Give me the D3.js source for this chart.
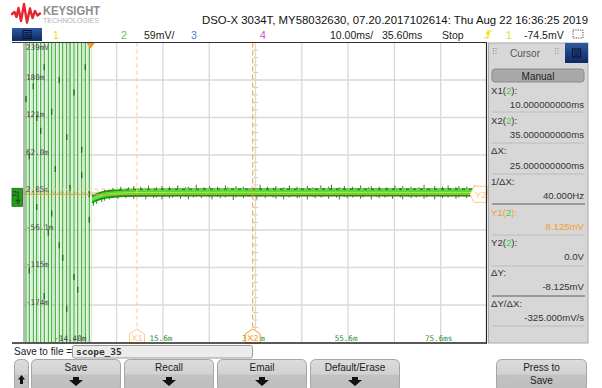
<!DOCTYPE html>
<html><head><meta charset="utf-8">
<script src="https://cdn.jsdelivr.net/npm/d3@7"></script>
<style>
body{margin:0;background:#fff;}
svg{display:block;font-family:"Liberation Sans",Arial,sans-serif;}
</style>
</head><body><svg id="c" width="602" height="388"></svg>
<script>
// ---------------- data ----------------
const timeDomain = [-14.4, 85.6];            // ms, screen left..right (10 ms/div)
const voltDomain = [-233.15, 238.85];         // mV, bottom..top (59 mV/div, offset 2.85 mV)
const yTickValues = [238.85, 179.85, 120.85, 61.85, 2.85, -56.15, -115.15, -174.15];
const yTickLabels = ["239mV", "180m", "121m", "62.0m", "2.85m", "-56.1m", "-115m", "-174m"];
const xLabelTimes = [-4.4, 15.6, 35.6, 55.6, 75.6];
const xLabelTexts = ["-14.40m", "15.6m", "35.6m", "55.6m", "75.6ms"];

// pre-trigger oscillation: edge times (ms) of a signal that overdrives the screen
const oscEdgeTimes = [-13.97, -13.26, -12.39, -11.66, -10.79, -10.02, -9.15, -8.42, -7.64,
                      -6.78, -6.04, -5.18, -4.47, -3.60, -2.80, -1.94, -1.16, -0.30];
const oscHigh = 420, oscLow = -420;           // mV (beyond screen)
// darker sample marks on the oscillation edges [ms, mV]
const oscMarkT = [-13.97, -13.26, -12.39, -11.66, -10.79, -10.02, -9.15, -8.42, -7.64, -6.78, -6.04, -5.18, -4.47, -3.60, -2.80, -1.94, -1.16, -0.30,
                  -13.26, -11.66, -10.02, -8.42, -6.78, -5.18, -3.60, -1.94, -0.30];
const oscMarkV = [150, 60, 170, -20, 100, 200, -60, 130, 40, 180, -100, 90, 10, 160, -150, 70, 200, -40,
                  -120, 120, -160, -30, -80, -180, -130, 30, 0];

// post-trigger settling: mean of trace (mV)
const meanT = [0.3, 0.8, 1.5, 2.5, 3.5, 5, 7, 10, 20, 30, 40, 50, 60, 70, 80, 85.6];
const meanV = [-8, -6, -4, -1.5, 0, 1.2, 2.2, 2.8, 3, 3.2, 2.9, 3, 3.1, 2.9, 3, 3];
// noise excursions (mV)
const spikeT = [0.6,1.3,2.4,3.0,4.1,4.8,5.9,6.5,7.6,8.2,9.3,10.1,10.8,11.9,12.5,13.6,14.2,15.4,15.9,17.0,
  17.7,18.8,19.4,20.5,21.1,22.2,22.8,23.9,24.5,25.7,26.2,27.4,28.0,29.1,29.6,30.8,31.4,32.5,33.0,34.2,
  34.9,35.9,36.6,37.7,38.2,39.4,40.0,41.2,41.7,42.9,43.4,44.6,45.1,46.3,46.8,48.0,48.5,49.7,50.2,51.4,
  52.0,53.1,53.7,54.8,55.4,56.6,57.1,58.3,58.8,60.0,60.6,61.7,62.3,63.5,64.0,65.2,65.7,66.9,67.4,68.6,
  69.2,70.3,70.9,72.0,72.6,73.8,74.3,75.5,76.0,77.2,77.8,78.9,79.5,80.6,81.2,82.4,82.9,84.1,84.7];
const spikeHi = [-2,1,4,8,7,10,9,12,8,11,13,9,12,10,14,9,11,13,8,12,
  10,14,9,11,12,8,15,10,11,13,9,12,8,14,11,10,13,9,12,8,
  11,10,15,9,12,10,13,8,11,14,9,12,10,8,13,11,9,14,10,12,
  15,9,11,13,8,12,10,14,9,11,13,10,12,8,11,9,14,10,13,9,
  12,8,11,15,10,9,13,8,12,14,10,11,13,9,12,8,14,10,11];
const spikeLo = [-18,-15,-12,-10,-8,-6,-7,-4,-6,-3,-7,-5,-4,-8,-3,-6,-5,-8,-4,-6,
  -5,-3,-7,-4,-8,-5,-4,-6,-3,-5,-8,-4,-6,-5,-3,-9,-5,-3,-6,-4,
  -5,-8,-4,-6,-3,-5,-7,-4,-8,-5,-3,-6,-5,-3,-8,-4,-6,-5,-4,-7,
  -3,-5,-8,-4,-6,-5,-3,-7,-5,-3,-8,-4,-6,-5,-4,-7,-3,-5,-8,-4,
  -6,-5,-3,-7,-5,-3,-8,-4,-6,-5,-3,-7,-5,-3,-6,-4,-5,-7,-4];

// cursors
const cursorX = [10, 35];         // ms
const cursorY = [8.125, 0];       // mV
const triggerTime = 0;

// header / panel texts
const titleText = "DSO-X 3034T, MY58032630, 07.20.2017102614: Thu Aug 22 16:36:25 2019";
const panelLabels = ["X1(", "X2(", "ΔX:", "1/ΔX:", "Y1(", "Y2(", "ΔY:", "ΔY/ΔX:"];
const panelValues = ["10.000000000ms", "35.000000000ms", "25.000000000ms", "40.000Hz",
                     "8.125mV", "0.0V", "-8.125mV", "-325.000mV/s"];
const softkeys = ["Save", "Recall", "Email", "Default/Erase"];

// ---------------- drawing ----------------
const svg = d3.select("#c");
const PL = 24, PR = 487, PT = 42.5, PB = 342.5;
const x = d3.scaleLinear().domain(timeDomain).range([PL, PR]);
const y = d3.scaleLinear().domain(voltDomain).range([PB, PT]);

const ORANGE = "#f59a1c", ORANGE_L = "#ffc982";
const G_DARK = "#1f8a1a", G_MID = "#35a82f", G_BRIGHT = "#4ade30", G_LIGHT = "#d8f1d4";

svg.append("rect").attr("width", 602).attr("height", 388).attr("fill", "#fff");

// ----- header -----
svg.append("path")
  .attr("d", "M12,14 L14.5,12 L16.5,17 L18.5,8 L21,21 L24,4 L27,22.5 L30,8.5 L32.5,18 L35,11 L37.5,15.5 L40,13.5")
  .attr("fill", "none").attr("stroke", "#e3262f").attr("stroke-width", 2.4)
  .attr("stroke-linejoin", "round").attr("stroke-linecap", "round");
svg.append("text").attr("x", 43).attr("y", 15).attr("font-size", 13.5).attr("font-weight", "bold")
  .attr("fill", "#8d8d8d").attr("textLength", 57).attr("lengthAdjust", "spacingAndGlyphs").text("KEYSIGHT");
svg.append("text").attr("x", 43).attr("y", 23.3).attr("font-size", 6.4)
  .attr("fill", "#b0b0b0").attr("textLength", 56).attr("lengthAdjust", "spacingAndGlyphs").text("TECHNOLOGIES");
svg.append("text").attr("x", 202).attr("y", 24).attr("font-size", 11.8).attr("fill", "#111")
  .attr("textLength", 386).attr("lengthAdjust", "spacingAndGlyphs").text(titleText);

// menu box
const defs = svg.append("defs");
const bg = defs.append("linearGradient").attr("id", "blu").attr("x1", 0).attr("y1", 0).attr("x2", 0).attr("y2", 1);
bg.append("stop").attr("offset", 0).attr("stop-color", "#2f5aa0");
bg.append("stop").attr("offset", 1).attr("stop-color", "#0b2866");
function menuBox(x0, y0, w, h) {
  svg.append("rect").attr("x", x0).attr("y", y0).attr("width", w).attr("height", h).attr("fill", "url(#blu)");
  const cx = x0 + w / 2, cy = y0 + h / 2;
  svg.append("rect").attr("x", cx - 4).attr("y", cy - 4).attr("width", 8).attr("height", 8)
    .attr("fill", "none").attr("stroke", "#0a0f1c").attr("stroke-width", 1);
  [-1.5, 0.5, 2.5].forEach(d => svg.append("line").attr("x1", cx - 2.5).attr("x2", cx + 2.5)
    .attr("y1", cy + d - 0.5).attr("y2", cy + d - 0.5).attr("stroke", "#0a0f1c").attr("stroke-width", 0.8));
}
menuBox(12, 28, 30, 13);

const row2 = [
  {t: "1", x: 53, c: "#e8e000"}, {t: "2", x: 121, c: "#4cd04c"}, {t: "59mV/", x: 144, c: "#222"},
  {t: "3", x: 191, c: "#4a78e8"}, {t: "4", x: 260, c: "#e040c0"},
  {t: "10.00ms/", x: 330, c: "#222"}, {t: "35.60ms", x: 382, c: "#222"}, {t: "Stop", x: 442, c: "#222"},
  {t: "1", x: 506, c: "#e8e000"}, {t: "-74.5mV", x: 524, c: "#222"}
];
row2.forEach(d => svg.append("text").attr("x", d.x).attr("y", 39).attr("font-size", 10.5)
  .attr("fill", d.c).text(d.t));
// trigger edge icon
svg.append("path").attr("d", "M484,38 L488,38 L488,31 L492,31 M486,34 L488,32 L490,34")
  .attr("fill", "none").attr("stroke", "#e8e000").attr("stroke-width", 1.2);
// dotted zoom icon
svg.append("rect").attr("x", 573).attr("y", 30).attr("width", 10).attr("height", 8)
  .attr("fill", "none").attr("stroke", "#333").attr("stroke-width", 0.9).attr("stroke-dasharray", "1.2,1.2");

// ----- plot frame & grid -----
svg.append("rect").attr("x", PL).attr("y", PT).attr("width", PR - PL).attr("height", PB - PT).attr("fill", "#fff");
const gridT = d3.range(0, 11).map(i => timeDomain[0] + i * 10);
const gridV = d3.range(0, 9).map(i => voltDomain[0] + i * 59);
const grid = svg.append("g");
grid.selectAll(".gx").data(gridT.slice(1, -1)).join("line")
  .attr("x1", d => x(d)).attr("x2", d => x(d)).attr("y1", PT).attr("y2", PB)
  .attr("stroke", "#d9d9d9").attr("stroke-width", 1.3);
grid.selectAll(".gy").data(gridV.slice(1, -1)).join("line")
  .attr("x1", PL).attr("x2", PR).attr("y1", d => y(d)).attr("y2", d => y(d))
  .attr("stroke", "#d9d9d9").attr("stroke-width", 1.3);
// minor ticks on centre axes
const minorT = d3.range(0, 51).map(i => timeDomain[0] + i * 2);
grid.selectAll(".mt").data(minorT).join("line")
  .attr("x1", d => x(d)).attr("x2", d => x(d)).attr("y1", y(2.85) - 2.5).attr("y2", y(2.85) + 2.5)
  .attr("stroke", "#d0d0d0");
const minorV = d3.range(0, 41).map(i => voltDomain[0] + i * 11.8);
grid.selectAll(".mv").data(minorV).join("line")
  .attr("x1", x(35.6) - 2.5).attr("x2", x(35.6) + 2.5).attr("y1", d => y(d)).attr("y2", d => y(d))
  .attr("stroke", "#d0d0d0");

// clip
defs.append("clipPath").attr("id", "clip").append("rect")
  .attr("x", PL).attr("y", PT).attr("width", PR - PL).attr("height", PB - PT);
const plot = svg.append("g").attr("clip-path", "url(#clip)");

// oscillation: light fills between edge pairs
const pairs = d3.range(0, oscEdgeTimes.length - 1, 2).map(i => [oscEdgeTimes[i], oscEdgeTimes[i + 1]]);
plot.selectAll(".of").data(pairs).join("rect")
  .attr("x", d => x(d[0]) + 1).attr("width", d => Math.max(0, x(d[1]) - x(d[0]) - 1.8))
  .attr("y", y(oscHigh)).attr("height", y(oscLow) - y(oscHigh))
  .attr("fill", G_LIGHT);
// faint secondary traces
plot.selectAll(".ol2").data(oscEdgeTimes.filter((d, i) => i % 2 === 1)).join("line")
  .attr("x1", d => x(d) + 1.9).attr("x2", d => x(d) + 1.9).attr("y1", y(oscHigh)).attr("y2", y(oscLow))
  .attr("stroke", "#a9e2a3").attr("stroke-width", 0.7);
plot.selectAll(".ol").data(oscEdgeTimes).join("line")
  .attr("x1", d => x(d)).attr("x2", d => x(d)).attr("y1", y(oscHigh)).attr("y2", y(oscLow))
  .attr("stroke", G_MID).attr("stroke-width", 1.1);
plot.selectAll(".om").data(oscMarkT).join("line")
  .attr("x1", d => x(d)).attr("x2", d => x(d))
  .attr("y1", (d, i) => y(oscMarkV[i]) - 3).attr("y2", (d, i) => y(oscMarkV[i]) + 3)
  .attr("stroke", "#176b14").attr("stroke-width", 1.3);

// settled trace
const meanPts = meanT.map((t, i) => [t, meanV[i]]);
const area = (d0, d1) => d3.area().x(d => x(d[0])).y0(d => y(d[1] + d0)).y1(d => y(d[1] + d1));
plot.append("path").datum(meanPts).attr("d", area(-6.5, 6.5)).attr("fill", G_DARK);
const nS = Math.min(spikeT.length, spikeHi.length, spikeLo.length);
plot.selectAll(".sp").data(d3.range(nS)).join("line")
  .attr("x1", i => x(spikeT[i])).attr("x2", i => x(spikeT[i]))
  .attr("y1", i => y(spikeHi[i])).attr("y2", i => y(spikeLo[i]))
  .attr("stroke", G_DARK).attr("stroke-width", 1);
plot.append("path").datum(meanPts).attr("d", area(-3.8, 3.8)).attr("fill", G_BRIGHT);
plot.append("path").datum(meanPts)
  .attr("d", d3.line().x(d => x(d[0])).y(d => y(d[1]))).attr("fill", "none")
  .attr("stroke", "#8cf75a").attr("stroke-width", 1);

// y labels (drawn above the traces)
svg.selectAll(".yl").data(yTickValues).join("text")
  .attr("x", 26).attr("y", (d, i) => i === 0 ? y(d) + 7.5 : y(d) - 0.5)
  .attr("font-family", "DejaVu Sans Mono, monospace").attr("font-size", 7.6)
  .attr("fill", "#4a4a4a").text((d, i) => yTickLabels[i]);

// cursors
svg.append("line").attr("x1", PL).attr("x2", 470).attr("y1", y(cursorY[0])).attr("y2", y(cursorY[0]))
  .attr("stroke", ORANGE_L).attr("stroke-width", 1).attr("stroke-dasharray", "4,3");
svg.append("line").attr("x1", PL).attr("x2", 470).attr("y1", y(cursorY[1])).attr("y2", y(cursorY[1]))
  .attr("stroke", ORANGE).attr("stroke-width", 1);
svg.append("line").attr("x1", x(cursorX[0])).attr("x2", x(cursorX[0])).attr("y1", PT).attr("y2", 329)
  .attr("stroke", ORANGE_L).attr("stroke-width", 1).attr("stroke-dasharray", "4,3");
svg.append("line").attr("x1", x(cursorX[1])).attr("x2", x(cursorX[1])).attr("y1", PT).attr("y2", 329)
  .attr("stroke", ORANGE).attr("stroke-width", 1).attr("stroke-dasharray", "5,3");

// x labels
svg.selectAll(".xl").data(xLabelTimes).join("text")
  .attr("x", (d, i) => x(d) - (i === 0 ? 0 : 2)).attr("y", 341)
  .attr("text-anchor", "middle").attr("font-family", "DejaVu Sans Mono, monospace").attr("font-size", 7.6)
  .attr("fill", (d, i) => i === 0 ? "#3a4a3a" : "#2e8b2e").text((d, i) => xLabelTexts[i]);

// cursor markers
function xMarker(t, label, col) {
  const cx = x(t);
  svg.append("path").attr("d", `M${cx - 7.5},343 L${cx - 7.5},334 L${cx},329 L${cx + 7.5},334 L${cx + 7.5},343 Z`)
    .attr("fill", "#fff").attr("stroke", col).attr("stroke-width", 1);
  svg.append("text").attr("x", cx).attr("y", 341).attr("text-anchor", "middle").attr("font-size", 9.5)
    .attr("fill", col).text(label);
}
xMarker(cursorX[0], "X1", ORANGE_L);
xMarker(cursorX[1], "X2", ORANGE);
{
  const cy = y(cursorY[1]);
  svg.append("path").attr("d", `M470,${cy} L474,${cy - 8} L487,${cy - 8} L487,${cy + 8} L474,${cy + 8} Z`)
    .attr("fill", "#fff").attr("stroke", ORANGE_L).attr("stroke-width", 1);
  svg.append("text").attr("x", 475).attr("y", cy + 3.5).attr("font-size", 9.5).attr("fill", ORANGE_L).text("Y2");
}
// trigger marker
svg.append("path").attr("d", `M${x(triggerTime) - 4.5},${PT} L${x(triggerTime) + 4.5},${PT} L${x(triggerTime)},${PT + 6} Z`)
  .attr("fill", ORANGE);

// ground marker for channel 2
{
  const gy = y(0);
  svg.append("rect").attr("x", 12).attr("y", gy - 6).attr("width", 10.5).attr("height", 18)
    .attr("fill", "#2a9a22").attr("stroke", "#146a10").attr("stroke-width", 0.8);
  svg.append("text").attr("x", 12.5).attr("y", gy + 2).attr("font-size", 8).attr("fill", "#0c3a0a").text("2");
  svg.append("path").attr("d", `M18,${gy - 3} L18,${gy + 6} M15.5,${gy + 6} L20.5,${gy + 6} M16.3,${gy + 7.5} L19.7,${gy + 7.5} M17.2,${gy + 9} L18.8,${gy + 9}`)
    .attr("stroke", "#0c3a0a").attr("stroke-width", 0.8);
}

// frame lines
svg.append("line").attr("x1", 12).attr("x2", PR).attr("y1", PT).attr("y2", PT).attr("stroke", "#333").attr("stroke-width", 1);
svg.append("line").attr("x1", 12).attr("x2", PR).attr("y1", PB + 0.5).attr("y2", PB + 0.5).attr("stroke", "#222").attr("stroke-width", 1.3);
svg.append("line").attr("x1", PL).attr("x2", PL).attr("y1", PT).attr("y2", PB).attr("stroke", "#8a8a8a").attr("stroke-width", 1.2);
svg.append("line").attr("x1", PR - 0.5).attr("x2", PR - 0.5).attr("y1", PT).attr("y2", PB + 1).attr("stroke", "#222").attr("stroke-width", 1.2);

// ----- right panel -----
svg.append("rect").attr("x", 488.5).attr("y", 43).attr("width", 99.5).attr("height", 300)
  .attr("fill", "#d7d7d7").attr("stroke", "#a8a8a8").attr("stroke-width", 1);
svg.append("text").attr("x", 525).attr("y", 57).attr("text-anchor", "middle").attr("font-size", 10)
  .attr("fill", "#555").text("Cursor");
[493, 555].forEach(gx => {
  [0, 1].forEach(c => [0, 1, 2].forEach(r => svg.append("rect").attr("x", gx + c * 2.5).attr("y", 48 + r * 2.5)
    .attr("width", 1).attr("height", 1).attr("fill", "#888")));
});
menuBox(565, 43, 23, 20);
svg.append("rect").attr("x", 492).attr("y", 69).attr("width", 92).attr("height", 13).attr("rx", 3)
  .attr("fill", "#a9a9a9").attr("stroke", "#8a8a8a");
svg.append("text").attr("x", 538).attr("y", 79.5).attr("text-anchor", "middle").attr("font-size", 10)
  .attr("fill", "#222").text("Manual");

const rowLabelY = [94, 124, 154, 185, 216, 246, 276, 307];
const rowValueY = [108, 138, 169, 199, 230, 260, 290, 321];
const sepY = [112, 143, 174, 204, 235, 266, 296, 326];
panelLabels.forEach((lab, i) => {
  const isY1 = i === 4;
  const col = isY1 ? "#f0a030" : "#333";
  const t = svg.append("text").attr("x", 491).attr("y", rowLabelY[i]).attr("font-size", 9.6).attr("fill", col);
  t.append("tspan").text(lab);
  if (lab.endsWith("(")) {
    t.append("tspan").attr("fill", "#3bd13b").text("2");
    t.append("tspan").text("):");
  }
  svg.append("text").attr("x", 584).attr("y", rowValueY[i]).attr("text-anchor", "end").attr("font-size", 9.6)
    .attr("fill", col).text(panelValues[i]);
  const thick = (i === 3 || i === 6);
  svg.append("line").attr("x1", 492).attr("x2", 585).attr("y1", sepY[i]).attr("y2", sepY[i])
    .attr("stroke", thick ? "#9a9a9a" : "#bcbcbc").attr("stroke-width", thick ? 2 : 1);
});

// ----- bottom area -----
svg.append("text").attr("x", 14).attr("y", 355).attr("font-size", 10).attr("fill", "#222").text("Save to file =");
svg.append("rect").attr("x", 72.5).attr("y", 345.5).attr("width", 180).attr("height", 12.5).attr("rx", 2)
  .attr("fill", "#ececec").attr("stroke", "#9a9a9a");
svg.append("text").attr("x", 76).attr("y", 355).attr("font-size", 9.5).attr("font-weight", "bold")
  .attr("font-family", "DejaVu Sans Mono, monospace").attr("fill", "#333").text("scope_35");

const kg = defs.append("linearGradient").attr("id", "key").attr("x1", 0).attr("y1", 0).attr("x2", 0).attr("y2", 1);
kg.append("stop").attr("offset", 0).attr("stop-color", "#dcdcdc");
kg.append("stop").attr("offset", 0.45).attr("stop-color", "#d2d2d2");
kg.append("stop").attr("offset", 0.5).attr("stop-color", "#c2c2c2");
kg.append("stop").attr("offset", 1).attr("stop-color", "#bdbdbd");
function key(x0, w) {
  svg.append("rect").attr("x", x0).attr("y", 359.5).attr("width", w).attr("height", 32).attr("rx", 5)
    .attr("fill", "url(#key)").attr("stroke", "#a5a5a5");
}
function arrow(cx) {
  svg.append("path").attr("d", `M${cx - 3},377 L${cx + 3},377 L${cx + 3},380 L${cx + 7},380 L${cx},386 L${cx - 7},380 L${cx - 3},380 Z`)
    .attr("fill", "#111");
}
key(14.5, 14);
svg.append("path").attr("d", "M21.5,375 L25,379.5 L23,379.5 L23,384 L20,384 L20,379.5 L18,379.5 Z").attr("fill", "#111");
const keyX = [31.5, 124.5, 217.5, 310.5];
softkeys.forEach((s, i) => {
  key(keyX[i], 89);
  svg.append("text").attr("x", keyX[i] + 44.5).attr("y", 371).attr("text-anchor", "middle")
    .attr("font-size", 10).attr("fill", "#222").text(s);
  arrow(keyX[i] + 44.5);
});
key(496.5, 90);
svg.append("text").attr("x", 541.5).attr("y", 371).attr("text-anchor", "middle").attr("font-size", 10).attr("fill", "#222").text("Press to");
svg.append("text").attr("x", 541.5).attr("y", 384).attr("text-anchor", "middle").attr("font-size", 10).attr("fill", "#222").text("Save");
</script>
</body></html>
